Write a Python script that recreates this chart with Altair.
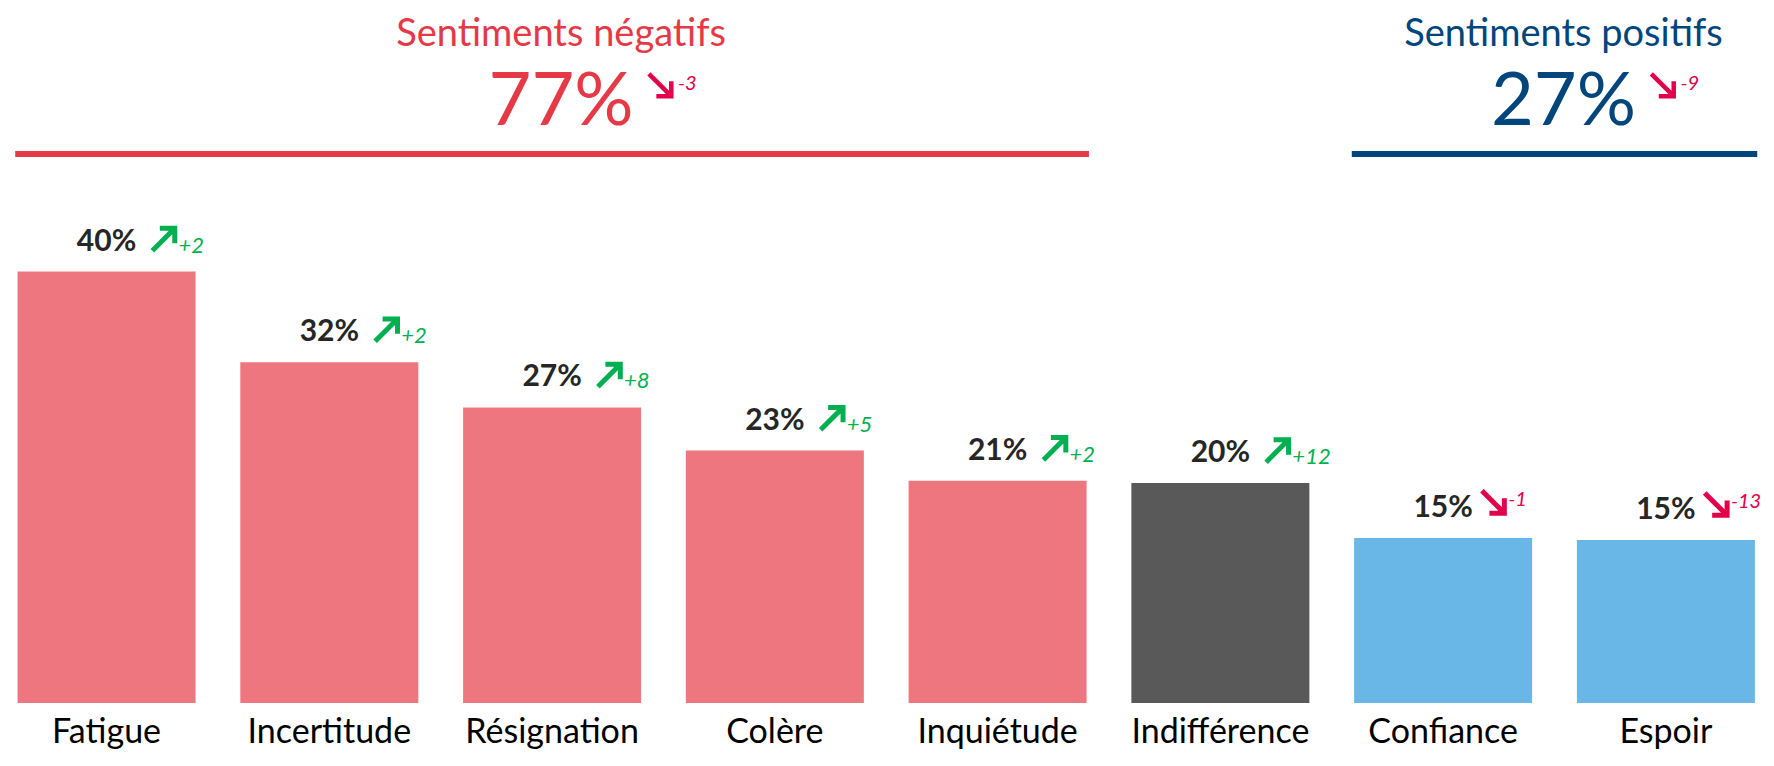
import altair as alt
import pandas as pd

# ---------------- data ----------------
categories = ["Fatigue", "Incertitude", "Résignation", "Colère",
              "Inquiétude", "Indifférence", "Confiance", "Espoir"]
values = [40.0, 31.6, 27.4, 23.4, 20.6, 20.4, 15.3, 15.1]
changes = [2, 2, 8, 5, 2, 12, -1, -13]
groups = ["neg", "neg", "neg", "neg", "neg", "neu", "pos", "pos"]

group_keys = ["neg", "pos"]
group_titles = ["Sentiments négatifs", "Sentiments positifs"]
group_totals = [77, 27]
group_changes = [-3, -9]

# ---------------- styles ----------------
FONT = "Lato"
BAR_DOMAIN = ["neg", "neu", "pos"]
BAR_RANGE = ["#EE767E", "#595959", "#69B7E7"]
HEAD_RANGE = ["#E63946", "#00457C"]
GREEN = "#00B050"
CRIMSON = "#E2004A"
NE_PATH = "M -0.9 0.9 L 0.8 -0.8 M -0.3 -0.9 L 0.9 -0.9 L 0.9 0.3"
SE_PATH = "M -0.9 -0.9 L 0.8 0.8 M -0.3 0.9 L 0.9 0.9 L 0.9 -0.3"

df = pd.DataFrame({
    "idx": list(range(len(categories))),
    "category": categories,
    "value": values,
    "change": changes,
    "group": groups,
})
df["label"] = df["value"].round().astype(int).astype(str) + "%"
df["change_label"] = df["change"].apply(lambda c: f"+{c}" if c > 0 else f"{c}")

hrows = []
for k, t, tot, ch in zip(group_keys, group_titles, group_totals, group_changes):
    idxs = [i for i, g in enumerate(groups) if g == k]
    x0 = min(idxs) - 0.41
    x1 = max(idxs) + 0.41
    hrows.append({"key": k, "title": t, "total": f"{tot}%",
                  "change_label": f"{ch}" if ch < 0 else f"+{ch}",
                  "x0": x0, "x1": x1, "xc": (x0 + x1) / 2})
hdf = pd.DataFrame(hrows)

xscale = alt.Scale(domain=[-0.42, 7.4], nice=False, zero=False)
yscale = alt.Scale(domain=[0, 64.43], nice=False, zero=False)
X = lambda f: alt.X(f, type="quantitative", scale=xscale, axis=None)
Y = lambda f: alt.Y(f, type="quantitative", scale=yscale, axis=None)
head_color = alt.Color("key:N", scale=alt.Scale(domain=group_keys, range=HEAD_RANGE), legend=None)

base = alt.Chart(df)

bars = base.mark_bar(size=178).encode(
    x=X("idx"), y=Y("value"),
    color=alt.Color("group:N", scale=alt.Scale(domain=BAR_DOMAIN, range=BAR_RANGE), legend=None),
)

pct = base.mark_text(dy=-21, baseline="alphabetic", font=FONT, fontWeight="bold",
                     fontSize=30, color="#262626").encode(x=X("idx"), y=Y("value"), text="label:N")

up_arrows = base.transform_filter("datum.change > 0").mark_point(
    shape=NE_PATH, filled=False, size=620, strokeWidth=5, color=GREEN, opacity=1,
    xOffset=57, yOffset=-32).encode(x=X("idx"), y=Y("value"))
down_arrows = base.transform_filter("datum.change < 0").mark_point(
    shape=SE_PATH, filled=False, size=620, strokeWidth=5, color=CRIMSON, opacity=1,
    xOffset=50, yOffset=-36).encode(x=X("idx"), y=Y("value"))

up_txt = base.transform_filter("datum.change > 0").mark_text(
    align="left", baseline="alphabetic", dx=72, dy=-19, font=FONT, fontStyle="italic",
    fontSize=22, color=GREEN).encode(x=X("idx"), y=Y("value"), text="change_label:N")
down_txt = base.transform_filter("datum.change < 0").mark_text(
    align="left", baseline="alphabetic", dx=65, dy=-32, font=FONT, fontStyle="italic",
    fontSize=20, color=CRIMSON).encode(x=X("idx"), y=Y("value"), text="change_label:N")

cat_labels = base.mark_text(baseline="alphabetic", dy=40, font=FONT, fontSize=34,
                            color="#000000").encode(x=X("idx"), y=alt.datum(0), text="category:N")

hbase = alt.Chart(hdf)
h_rule = hbase.mark_rule(strokeWidth=6).encode(
    x=X("x0"), x2="x1", y=alt.value(146), color=head_color)
h_title = hbase.mark_text(baseline="alphabetic", dx=9, font=FONT, fontSize=38).encode(
    x=X("xc"), y=alt.value(38), text="title:N", color=head_color)
h_total = hbase.mark_text(baseline="alphabetic", dx=9, font=FONT, fontSize=74).encode(
    x=X("xc"), y=alt.value(117), text="total:N", color=head_color)
h_arrow = hbase.mark_point(shape=SE_PATH, filled=False, size=620, strokeWidth=4.5, color=CRIMSON,
                           opacity=1, xOffset=108).encode(x=X("xc"), y=alt.value(77))
h_chg = hbase.mark_text(align="left", baseline="alphabetic", dx=126, font=FONT, fontStyle="italic",
                        fontSize=20, color=CRIMSON).encode(x=X("xc"), y=alt.value(82), text="change_label:N")

chart = alt.layer(
    bars, pct, up_arrows, down_arrows, up_txt, down_txt, cat_labels,
    h_rule, h_title, h_total, h_arrow, h_chg,
).resolve_scale(color="independent").properties(
    width=1752, height=695,
    padding={"left": 0, "top": 0, "right": 0, "bottom": 0},
).configure_view(stroke=None)

chart.save("out.html", embed_options={"renderer": "svg", "actions": False})
